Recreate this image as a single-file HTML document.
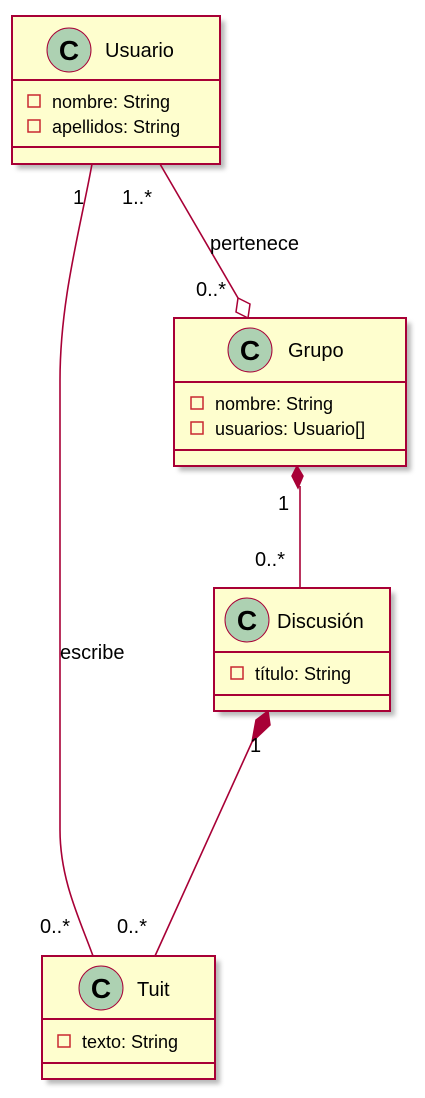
<!DOCTYPE html>
<html><head><meta charset="utf-8"><style>
html,body{margin:0;padding:0;background:#fff;}
svg{display:block;}
text{font-family:"Liberation Sans",sans-serif;fill:#000;}
</style></head><body>
<svg width="425" height="1098" viewBox="0 0 425 1098" xmlns="http://www.w3.org/2000/svg">
<defs>
<filter id="sh" x="-10%" y="-10%" width="130%" height="130%"><feGaussianBlur stdDeviation="2.5"/></filter>
</defs>
<g fill="#888" opacity="0.6" filter="url(#sh)">
<rect x="17" y="21" width="208" height="148"/>
<rect x="179" y="323" width="232" height="148"/>
<rect x="219" y="593" width="176" height="123"/>
<rect x="47" y="961" width="173" height="123"/>
</g>
<g stroke="#A80036" stroke-width="1.6" fill="none">
<path d="M92,164 C80,230 60,300 60,380 L60,830 C60,880 80,920 93,956"/>
<path d="M160,164 L238,298"/>
<path d="M300,486 L300,588"/>
<path d="M252,742 L155,956"/>
</g>
<path d="M238,298 L250,304 L248,318 L236,312 Z" fill="#fff" stroke="#A80036" stroke-width="1.5"/>
<path d="M297,466 L303,476 L298,488 L292,476 Z" fill="#A80036" stroke="#A80036" stroke-width="1.5"/>
<path d="M268,711 L270,725 L252,742 L256,720 Z" fill="#A80036" stroke="#A80036" stroke-width="1.5"/>
<g fill="#FEFECE" stroke="#A80036" stroke-width="2">
<rect x="12" y="16" width="208" height="148"/>
<line x1="12" y1="80" x2="220" y2="80"/><line x1="12" y1="147" x2="220" y2="147"/>
<rect x="174" y="318" width="232" height="148"/>
<line x1="174" y1="382" x2="406" y2="382"/><line x1="174" y1="450" x2="406" y2="450"/>
<rect x="214" y="588" width="176" height="123"/>
<line x1="214" y1="652" x2="390" y2="652"/><line x1="214" y1="695" x2="390" y2="695"/>
<rect x="42" y="956" width="173" height="123"/>
<line x1="42" y1="1019" x2="215" y2="1019"/><line x1="42" y1="1063" x2="215" y2="1063"/>
</g>
<g fill="#ADD1B2" stroke="#A80036" stroke-width="1">
<circle cx="69" cy="50" r="22"/>
<circle cx="250" cy="350" r="22"/>
<circle cx="247" cy="620" r="22"/>
<circle cx="101" cy="988" r="22"/>
</g>
<g font-weight="bold" font-size="28" text-anchor="middle">
<text x="69" y="60">C</text><text x="250" y="360">C</text><text x="247" y="630">C</text><text x="101" y="998">C</text>
</g>
<g font-size="20">
<text x="105" y="57">Usuario</text>
<text x="288" y="357">Grupo</text>
<text x="277" y="628">Discusión</text>
<text x="137" y="996">Tuit</text>
</g>
<g fill="none" stroke="#C82930" stroke-width="1.5">
<rect x="28" y="95" width="12" height="12"/><rect x="28" y="120" width="12" height="12"/>
<rect x="191" y="397" width="12" height="12"/><rect x="191" y="422" width="12" height="12"/>
<rect x="231" y="667" width="12" height="12"/>
<rect x="58" y="1035" width="12" height="12"/>
</g>
<g font-size="18">
<text x="52" y="108">nombre: String</text>
<text x="52" y="133">apellidos: String</text>
<text x="215" y="410">nombre: String</text>
<text x="215" y="435">usuarios: Usuario[]</text>
<text x="255" y="680">título: String</text>
<text x="82" y="1048">texto: String</text>
</g>
<g font-size="20">
<text x="73" y="204">1</text>
<text x="122" y="204">1..*</text>
<text x="210" y="250">pertenece</text>
<text x="196" y="296">0..*</text>
<text x="278" y="510">1</text>
<text x="255" y="566">0..*</text>
<text x="60" y="659">escribe</text>
<text x="250" y="752">1</text>
<text x="40" y="933">0..*</text>
<text x="117" y="933">0..*</text>
</g>
</svg>
</body></html>
